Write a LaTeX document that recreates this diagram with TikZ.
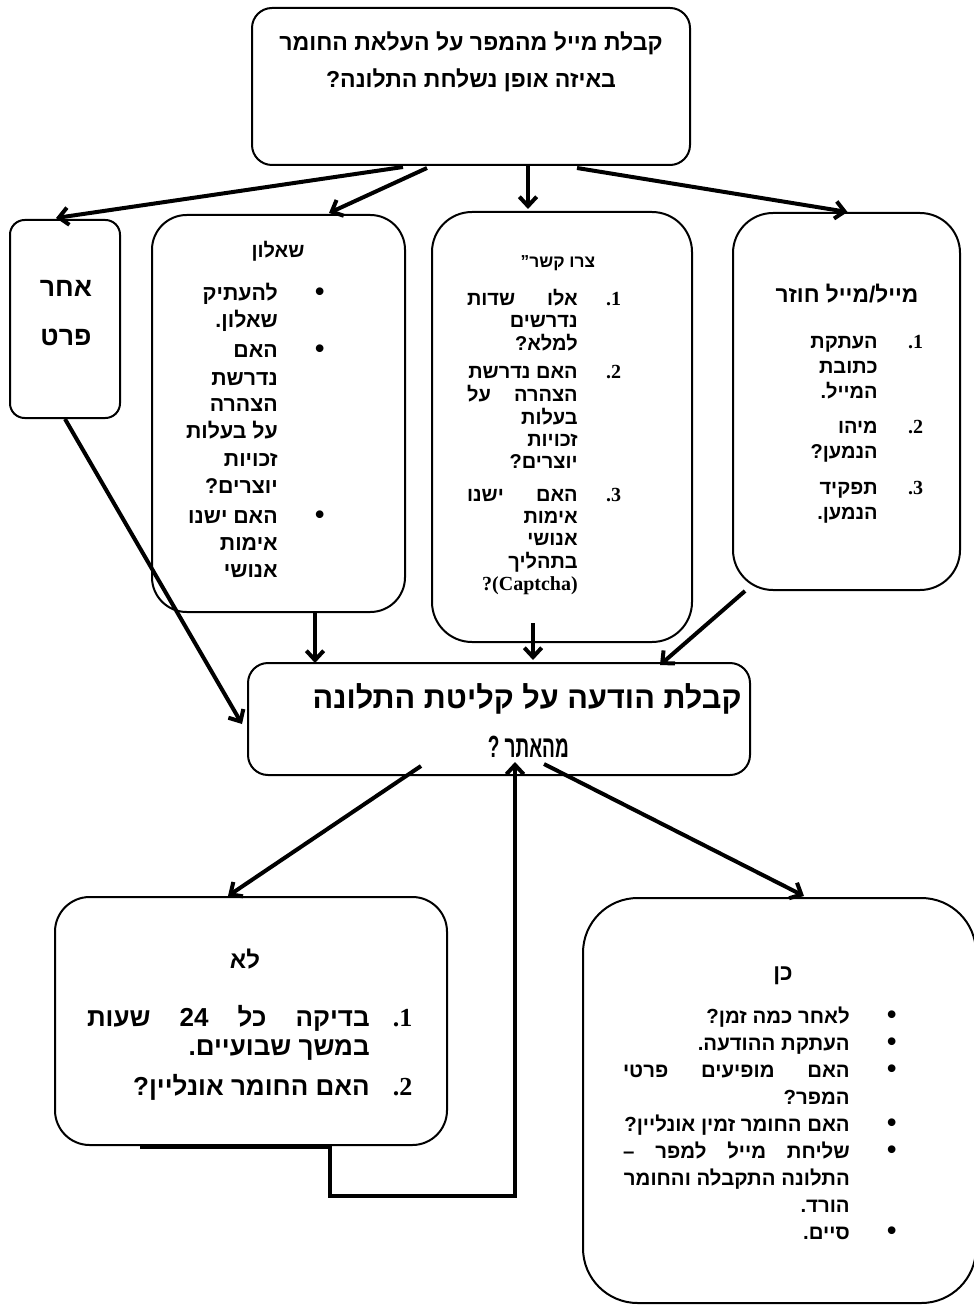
\documentclass[tikz,border=0pt]{standalone}
\usepackage{fontspec}
\usepackage{graphicx}
\setmainfont{Liberation Sans}
\newfontfamily\hebfont[Script=Hebrew]{Liberation Sans}
\newfontfamily\numfont{Liberation Serif}
\usetikzlibrary{arrows.meta,calc}
\TeXXeTstate=1
\newcommand{\heb}[1]{\beginR#1\endR}
\newcommand{\jl}[2]{\hbox to #1{\beginR#2\endR}}
\newcommand{\blt}{\makebox[0pt]{\fontsize{20}{0}\selectfont •}}
\newcommand{\nmb}[1]{\makebox[0pt]{\numfont\bfseries .#1}}

\begin{document}
\begin{tikzpicture}[x=0.75pt,y=-0.75pt,
    box/.style={draw, line width=1.5pt, inner sep=0pt},
    arr/.style={line width=3pt, -{Straight Barb[length=7pt,width=13pt]}},
    txt/.style={inner sep=0pt}]
	\useasboundingbox (0,0) rectangle (973,1308);
	% boxes
	\node[box, rounded corners=15pt, minimum width=328.5pt, minimum height=117.75pt] (top) at (471,86.5) {};
	\node[box, rounded corners=11pt, minimum width=82.5pt, minimum height=148.5pt] (other) at (65,319) {};
	\node[box, rounded corners=26pt, minimum width=189.75pt, minimum height=297.75pt] (quest) at (278.5,413.5) {};
	\node[box, rounded corners=30pt, minimum width=195pt, minimum height=322.5pt] (contact) at (562,427) {};
	\node[box, rounded corners=30pt, minimum width=170.25pt, minimum height=282.75pt] (mail) at (846.5,401.5) {};
	\node[box, rounded corners=15pt, minimum width=376.5pt, minimum height=84pt] (ack) at (499,719) {};
	\node[box, rounded corners=26pt, minimum width=294pt, minimum height=186pt] (no) at (251,1021) {};
	\node[box, rounded corners=41pt, minimum width=294.75pt, minimum height=303.75pt] (yes) at (779.5,1100.5) {};

	% texts
	\node[txt, anchor=base, font=\hebfont\bfseries\fontsize{17.3}{27.75}\selectfont] (toptxt) at (471,51)
		{\begin{tabular}[t]{@{}c@{}}\heb{קבלת מייל מהמפר על העלאת החומר}\\ \heb{באיזה אופן נשלחת התלונה?}\end{tabular}};
	\node[txt, anchor=base, font=\hebfont\bfseries\fontsize{20}{36}\selectfont] (othertxt) at (66,297)
		{\begin{tabular}[t]{@{}c@{}}\heb{אחר}\\ \heb{פרט}\end{tabular}};
	\node[txt, anchor=base, font=\hebfont\bfseries\fontsize{15}{18}\selectfont] (questhead) at (278,258) {\heb{שאלון}};
	\node[txt, anchor=base east, font=\hebfont\bfseries\fontsize{16}{20.25}\selectfont] (questlist) at (320,301)
		{\begin{tabular}[t]{@{}r@{\hspace{31.5pt}}c@{}}
		\heb{להעתיק} & \blt\\
		\heb{שאלון.} & \\[2.25pt]
		\heb{האם} & \blt\\
		\heb{נדרשת} & \\
		\heb{הצהרה} & \\
		\heb{על בעלות} & \\
		\heb{זכויות} & \\
		\heb{יוצרים?} & \\[2.25pt]
		\heb{האם ישנו} & \blt\\
		\heb{אימות} & \\
		\heb{אנושי} &
		\end{tabular}};
	\node[txt, anchor=base, font=\hebfont\bfseries\fontsize{13}{16}\selectfont] (contacthead) at (558,268) {\heb{צרו קשר”}};
	\node[txt, anchor=base east, font=\hebfont\bfseries\fontsize{15}{16.5}\selectfont] (contactlist) at (614,306)
		{\begin{tabular}[t]{@{}r@{\hspace{27pt}}c@{}}
		\jl{83pt}{אלו\hfill שדות} & \nmb{1}\\
		\heb{נדרשים} & \\
		\heb{למלא?} & \\[4.5pt]
		\heb{האם נדרשת} & \nmb{2}\\
		\jl{83pt}{הצהרה\hfill על} & \\
		\heb{בעלות} & \\
		\heb{זכויות} & \\
		\heb{יוצרים?} & \\[8pt]
		\jl{83pt}{האם\hfill ישנו} & \nmb{3}\\
		\heb{אימות} & \\
		\heb{אנושי} & \\
		\heb{בתהליך} & \\
		{\numfont\bfseries ?(Captcha)} &
		\end{tabular}};
	\node[txt, anchor=base, font=\hebfont\bfseries\fontsize{17}{18}\selectfont] (mailhead) at (847,303) {\heb{מייל/מייל חוזר}};
	\node[txt, anchor=base east, font=\hebfont\bfseries\fontsize{15}{18.75}\selectfont] (maillist) at (916,349)
		{\begin{tabular}[t]{@{}r@{\hspace{28.5pt}}c@{}}
		\heb{העתקת} & \nmb{1}\\
		\heb{כתובת} & \\
		\heb{המייל.} & \\[7.5pt]
		\heb{מיהו} & \nmb{2}\\
		\heb{הנמען?} & \\[7.5pt]
		\heb{תפקיד} & \nmb{3}\\
		\heb{הנמען.} &
		\end{tabular}};
	\node[txt, anchor=base, font=\hebfont\bfseries\fontsize{23}{36.75}\selectfont] (acktxt) at (527,708)
		{\begin{tabular}[t]{@{}c@{}}\heb{קבלת הודעה על קליטת התלונה}\\ \hspace{2pt}\scalebox{0.62}[1]{\heb{מהאתר ?}}\end{tabular}};
	\node[txt, anchor=base, font=\hebfont\bfseries\fontsize{18}{20}\selectfont] (nohead) at (245,968) {\heb{לא}};
	\node[txt, anchor=base east, font=\hebfont\bfseries\fontsize{19.5}{21.75}\selectfont] (nolist) at (403,1026)
		{\begin{tabular}[t]{@{}r@{\hspace{24.75pt}}c@{}}
		\jl{212pt}{בדיקה\hfill כל\hfill \beginL24\endL\hfill שעות} & \nmb{1}\\
		\heb{במשך שבועיים.} & \\[8pt]
		\heb{האם החומר אונליין?} & \nmb{2}
		\end{tabular}};
	\node[txt, anchor=base, font=\hebfont\bfseries\fontsize{17}{20}\selectfont] (yeshead) at (783,980) {\heb{כן}};
	\node[txt, anchor=base east, font=\hebfont\bfseries\fontsize{15.3}{20.25}\selectfont] (yeslist) at (892,1023)
		{\begin{tabular}[t]{@{}r@{\hspace{31.5pt}}c@{}}
		\heb{לאחר כמה זמן?} & \blt\\
		\heb{העתקת ההודעה.} & \blt\\
		\jl{170pt}{האם\hfill מופיעים\hfill פרטי} & \blt\\
		\heb{המפר?} & \\
		\heb{האם החומר זמין אונליין?} & \blt\\
		\jl{170pt}{שליחת\hfill מייל\hfill למפר\hfill –} & \blt\\
		\heb{התלונה התקבלה והחומר} & \\
		\heb{הורד.} & \\
		\heb{סיים.} & \blt
		\end{tabular}};

	% connectors
	\draw[arr] ($(top.south west)+(152,1)$) -- ($(other.north)+(-9,-1)$);
	\draw[arr] ($(top.south west)+(176,2)$) -- ($(quest.north)+(50.5,-1)$);
	\draw[arr] ($(top.south)+(57,-2)$) -- ($(contact.north)+(-34,-2)$);
	\draw[arr] ($(top.south west)+(326,2)$) -- ($(mail.north)+(1,0)$);
	\draw[arr] (other.south) -- ($(ack.west)+(-5,5)$);
	\draw[arr] ($(quest.south)+(36.5,0)$) -- ($(ack.north)+(-184,1)$);
	\draw[arr] ($(contact.south)+(-29,-20)$) -- ($(ack.north)+(34,-2)$);
	\draw[arr] ($(mail.south west)+(13,0)$) -- ($(ack.north)+(161,3)$);
	\draw[arr] ($(ack.south)+(-78,-10)$) -- ($(no.north)+(-23,0)$);
	\draw[arr] ($(ack.south)+(45,-12)$) -- ($(yes.north)+(24.5,-1)$);
	\draw[arr] ($(no.south)+(-111,1)$) -- ($(no.south)+(79,1)$) -- ($(no.south)+(79,50)$) -| ($(ack.south)+(16,-14)$);
\end{tikzpicture}
\end{document}
